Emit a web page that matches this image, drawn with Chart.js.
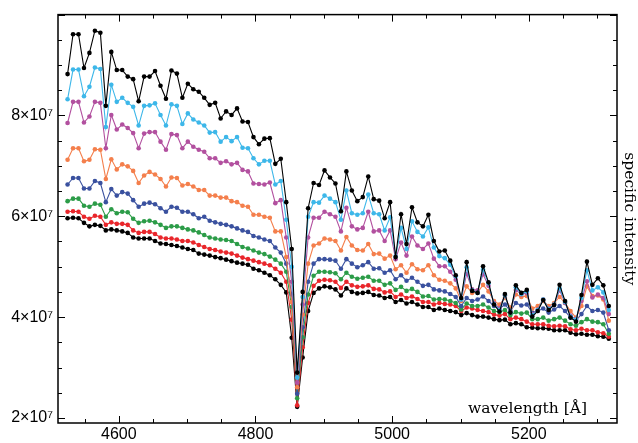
<!DOCTYPE html>
<html>
<head>
<meta charset="utf-8">
<script src="https://cdn.jsdelivr.net/npm/chart.js@4.4.1/dist/chart.umd.min.js"></script>
<style>
  html, body { margin: 0; padding: 0; background: #fff; }
</style>
</head>
<body>
<canvas id="specChart" width="638" height="443"></canvas>
<script>
// wavelength grid, Angstrom
var wavelengths = [4525, 4533, 4541, 4549, 4557, 4565, 4573, 4581, 4589, 4597,
  4605, 4613, 4621, 4629, 4637, 4645, 4653, 4661, 4669, 4677,
  4685, 4693, 4701, 4709, 4717, 4725, 4733, 4741, 4749, 4757,
  4765, 4773, 4781, 4789, 4797, 4805, 4813, 4821, 4829, 4837,
  4845, 4853, 4861, 4869, 4877, 4885, 4893, 4901, 4909, 4917,
  4925, 4933, 4941, 4949, 4957, 4965, 4973, 4981, 4989, 4997,
  5005, 5013, 5021, 5029, 5037, 5045, 5053, 5061, 5069, 5077,
  5085, 5093, 5101, 5109, 5117, 5125, 5133, 5141, 5149, 5157,
  5165, 5173, 5181, 5189, 5197, 5205, 5213, 5221, 5229, 5237,
  5245, 5253, 5261, 5269, 5277, 5285, 5293, 5301, 5309, 5317];

// specific intensity, units of 1e7
var curve0 = [8.82, 9.61, 9.61, 8.94, 9.24, 9.68, 9.64, 8.19, 9.26, 8.90,
  8.90, 8.77, 8.72, 8.28, 8.77, 8.77, 8.88, 8.59, 8.33, 8.89,
  8.83, 8.35, 8.63, 8.52, 8.47, 8.35, 8.21, 8.25, 7.94, 8.08,
  8.01, 8.14, 7.88, 7.87, 7.57, 7.43, 7.54, 7.55, 7.04, 7.14,
  6.28, 5.35, 2.90, 4.50, 6.16, 6.66, 6.62, 6.91, 6.77, 6.65,
  6.10, 6.89, 6.51, 6.30, 6.38, 6.79, 6.34, 6.31, 5.96, 6.28,
  5.19, 6.04, 5.45, 6.18, 5.88, 5.80, 6.03, 5.51, 5.30, 5.32,
  5.12, 4.83, 4.38, 5.09, 4.52, 4.48, 5.01, 4.69, 4.25, 4.11,
  4.46, 4.09, 4.63, 4.48, 4.54, 4.01, 4.12, 4.34, 4.14, 4.24,
  4.64, 4.32, 3.99, 3.91, 4.44, 5.10, 4.64, 4.77, 4.63, 4.22];
var curve1 = [8.32, 8.91, 8.91, 8.38, 8.57, 8.95, 8.92, 7.77, 8.61, 8.27,
  8.35, 8.25, 8.17, 7.80, 8.19, 8.20, 8.24, 8.01, 7.80, 8.22,
  8.19, 7.83, 8.04, 7.92, 7.86, 7.80, 7.66, 7.67, 7.48, 7.57,
  7.49, 7.57, 7.36, 7.35, 7.15, 7.03, 7.10, 7.10, 6.63, 6.70,
  5.93, 5.00, 2.80, 4.40, 5.99, 6.28, 6.27, 6.41, 6.35, 6.28,
  5.93, 6.51, 6.06, 6.03, 6.06, 6.43, 6.06, 6.04, 5.72, 5.98,
  5.20, 5.77, 5.35, 5.90, 5.69, 5.60, 5.78, 5.38, 5.21, 5.17,
  5.04, 4.81, 4.35, 4.99, 4.53, 4.48, 4.94, 4.67, 4.26, 4.14,
  4.44, 4.09, 4.59, 4.46, 4.51, 4.04, 4.14, 4.35, 4.16, 4.25,
  4.57, 4.30, 4.01, 3.95, 4.38, 4.93, 4.53, 4.59, 4.49, 4.14];
var curve2 = [7.85, 8.27, 8.27, 7.86, 7.98, 8.27, 8.25, 7.35, 8.01, 7.72,
  7.82, 7.75, 7.65, 7.35, 7.64, 7.67, 7.67, 7.48, 7.32, 7.63,
  7.61, 7.35, 7.48, 7.38, 7.32, 7.28, 7.15, 7.15, 7.06, 7.09,
  7.03, 7.06, 6.92, 6.89, 6.65, 6.64, 6.63, 6.67, 6.26, 6.32,
  5.58, 4.70, 2.70, 4.25, 5.58, 5.97, 5.97, 6.09, 6.04, 5.99,
  5.70, 6.17, 5.80, 5.74, 5.77, 6.09, 5.70, 5.72, 5.51, 5.72,
  5.15, 5.48, 5.22, 5.60, 5.42, 5.35, 5.46, 5.16, 5.01, 5.01,
  4.90, 4.74, 4.35, 4.86, 4.55, 4.53, 4.85, 4.62, 4.28, 4.17,
  4.43, 4.10, 4.54, 4.45, 4.48, 4.06, 4.15, 4.35, 4.17, 4.25,
  4.53, 4.28, 4.03, 3.96, 4.32, 4.71, 4.39, 4.45, 4.38, 4.06];
var curve3 = [7.12, 7.35, 7.35, 7.09, 7.12, 7.33, 7.32, 6.74, 7.13, 6.93,
  7.03, 6.99, 6.90, 6.66, 6.81, 6.88, 6.83, 6.74, 6.59, 6.77,
  6.76, 6.61, 6.64, 6.59, 6.52, 6.52, 6.41, 6.41, 6.37, 6.37,
  6.30, 6.28, 6.21, 6.19, 6.03, 6.03, 5.99, 5.97, 5.70, 5.70,
  5.19, 4.30, 2.61, 4.05, 5.06, 5.42, 5.46, 5.56, 5.54, 5.51,
  5.32, 5.59, 5.42, 5.33, 5.32, 5.45, 5.25, 5.26, 5.16, 5.22,
  4.95, 5.03, 4.88, 5.05, 4.95, 4.93, 5.03, 4.83, 4.74, 4.72,
  4.67, 4.57, 4.32, 4.61, 4.48, 4.49, 4.64, 4.51, 4.32, 4.25,
  4.38, 4.19, 4.45, 4.40, 4.42, 4.17, 4.22, 4.32, 4.22, 4.28,
  4.40, 4.28, 4.12, 3.99, 4.22, 4.61, 4.42, 4.43, 4.35, 3.93];
var curve4 = [6.63, 6.76, 6.76, 6.55, 6.55, 6.70, 6.66, 6.28, 6.54, 6.41,
  6.48, 6.45, 6.32, 6.19, 6.25, 6.27, 6.24, 6.16, 6.09, 6.19,
  6.17, 6.09, 6.09, 6.04, 5.96, 5.99, 5.91, 5.88, 5.85, 5.83,
  5.80, 5.76, 5.72, 5.69, 5.61, 5.58, 5.54, 5.51, 5.38, 5.28,
  5.06, 4.45, 2.48, 3.80, 4.70, 5.06, 5.15, 5.15, 5.14, 5.12,
  4.96, 5.15, 5.06, 4.99, 5.03, 5.09, 4.96, 4.97, 4.88, 4.93,
  4.75, 4.83, 4.72, 4.78, 4.70, 4.62, 4.64, 4.55, 4.53, 4.51,
  4.46, 4.40, 4.22, 4.38, 4.32, 4.35, 4.41, 4.32, 4.22, 4.17,
  4.25, 4.12, 4.28, 4.23, 4.25, 4.09, 4.12, 4.17, 4.09, 4.15,
  4.22, 4.12, 3.99, 3.93, 4.06, 4.22, 4.12, 4.14, 4.09, 3.74];
var curve5 = [6.30, 6.35, 6.35, 6.21, 6.19, 6.25, 6.23, 5.99, 6.14, 6.06,
  6.09, 6.08, 5.95, 5.87, 5.90, 5.91, 5.88, 5.83, 5.77, 5.80,
  5.80, 5.77, 5.74, 5.72, 5.68, 5.63, 5.58, 5.56, 5.54, 5.53,
  5.51, 5.45, 5.39, 5.36, 5.32, 5.28, 5.25, 5.20, 5.14, 5.06,
  4.90, 4.20, 2.39, 3.60, 4.45, 4.82, 4.90, 4.90, 4.89, 4.87,
  4.75, 4.88, 4.80, 4.76, 4.78, 4.80, 4.72, 4.72, 4.64, 4.67,
  4.54, 4.60, 4.52, 4.56, 4.50, 4.41, 4.42, 4.35, 4.36, 4.35,
  4.32, 4.28, 4.15, 4.27, 4.22, 4.22, 4.25, 4.19, 4.12, 4.10,
  4.14, 4.04, 4.10, 4.07, 4.09, 3.96, 3.96, 3.99, 3.93, 3.96,
  3.99, 3.93, 3.86, 3.83, 3.90, 3.96, 3.91, 3.90, 3.86, 3.67];
var curve6 = [6.09, 6.10, 6.09, 5.99, 5.95, 6.01, 5.99, 5.83, 5.88, 5.85,
  5.85, 5.83, 5.72, 5.67, 5.69, 5.69, 5.65, 5.58, 5.56, 5.56,
  5.54, 5.51, 5.51, 5.48, 5.43, 5.39, 5.35, 5.33, 5.30, 5.28,
  5.26, 5.22, 5.18, 5.15, 5.12, 5.09, 5.06, 5.03, 4.96, 4.88,
  4.70, 3.95, 2.25, 3.40, 4.28, 4.62, 4.72, 4.74, 4.73, 4.70,
  4.58, 4.70, 4.63, 4.60, 4.61, 4.63, 4.56, 4.55, 4.49, 4.51,
  4.40, 4.45, 4.38, 4.41, 4.36, 4.30, 4.30, 4.25, 4.28, 4.26,
  4.25, 4.22, 4.12, 4.19, 4.17, 4.14, 4.12, 4.10, 4.05, 4.03,
  4.06, 3.96, 3.99, 3.96, 3.91, 3.86, 3.86, 3.86, 3.83, 3.82,
  3.83, 3.82, 3.76, 3.74, 3.77, 3.74, 3.74, 3.70, 3.68, 3.61];
var curve7 = [5.96, 5.97, 5.96, 5.87, 5.80, 5.83, 5.81, 5.72, 5.74, 5.72,
  5.70, 5.67, 5.58, 5.56, 5.56, 5.56, 5.51, 5.46, 5.45, 5.43,
  5.41, 5.38, 5.35, 5.33, 5.26, 5.24, 5.22, 5.19, 5.17, 5.14,
  5.11, 5.08, 5.06, 5.04, 4.96, 4.93, 4.88, 4.83, 4.75, 4.64,
  4.49, 3.59, 2.22, 3.20, 4.12, 4.48, 4.57, 4.61, 4.59, 4.55,
  4.43, 4.57, 4.50, 4.47, 4.48, 4.50, 4.44, 4.43, 4.38, 4.40,
  4.30, 4.34, 4.27, 4.30, 4.25, 4.20, 4.20, 4.14, 4.17, 4.14,
  4.12, 4.10, 4.04, 4.08, 4.04, 4.01, 4.01, 3.99, 3.96, 3.94,
  3.95, 3.86, 3.88, 3.86, 3.80, 3.79, 3.78, 3.78, 3.77, 3.74,
  3.74, 3.74, 3.69, 3.66, 3.67, 3.65, 3.65, 3.62, 3.61, 3.57];

var curves = [curve0, curve1, curve2, curve3, curve4, curve5, curve6, curve7];
var curveColors = ["#000000", "#3db7e9", "#b2509f", "#f47f4c", "#3a519f", "#2c9c48", "#e9262b", "#000000"];

// labelled ticks (y in units of 1e7)
var yTickValues = [2, 4, 6, 8];
var yTickLabels = ["2×10⁷", "4×10⁷", "6×10⁷", "8×10⁷"];
var xTickValues = [4600, 4800, 5000, 5200];

var datasets = curves.map(function (vals, k) {
  return {
    data: wavelengths.map(function (w, i) { return { x: w, y: vals[i] }; }),
    borderColor: curveColors[k],
    backgroundColor: curveColors[k],
    borderWidth: 1.1,
    pointRadius: 2.3,
    pointBorderWidth: 0,
    pointBackgroundColor: curveColors[k],
    tension: 0
  };
});

function isStep(v, step) {
  var q = v / step;
  return Math.abs(q - Math.round(q)) < 1e-6;
}

// minor tick every 50 A on x, every 0.5e7 on y
function setTicks(step) {
  return function (scale) {
    var out = [];
    var v = Math.ceil(scale.min / step - 1e-9) * step;
    for (; v <= scale.max + 1e-9; v += step) out.push({ value: Math.round(v * 1000) / 1000 });
    scale.ticks = out;
  };
}

// box frame, inward ticks on all four sides, in-plot x label
var framePlugin = {
  id: 'frame',
  afterDraw: function (chart) {
    var ctx = chart.ctx, a = chart.chartArea;
    var xs = chart.scales.x, ys = chart.scales.y;
    ctx.save();
    ctx.strokeStyle = '#000';
    ctx.lineWidth = 1;
    ctx.beginPath();
    xs.ticks.forEach(function (t) {
      var px = Math.round(xs.getPixelForValue(t.value)) + 0.5;
      var len = xTickValues.indexOf(t.value) >= 0 ? 7 : 4;
      ctx.moveTo(px, a.bottom); ctx.lineTo(px, a.bottom - len);
      ctx.moveTo(px, a.top); ctx.lineTo(px, a.top + len);
    });
    ys.ticks.forEach(function (t) {
      var py = Math.round(ys.getPixelForValue(t.value)) + 0.5;
      var len = isStep(t.value, 2) ? 7 : 4;
      ctx.moveTo(a.left, py); ctx.lineTo(a.left + len, py);
      ctx.moveTo(a.right, py); ctx.lineTo(a.right - len, py);
    });
    ctx.stroke();
    ctx.lineWidth = 1.5;
    ctx.strokeRect(a.left, a.top, a.right - a.left, a.bottom - a.top);
    ctx.fillStyle = '#000';
    ctx.font = '15.5px "DejaVu Serif"';
    ctx.textAlign = 'right';
    ctx.textBaseline = 'alphabetic';
    ctx.fillText('wavelength [Å]', a.right - 30, a.bottom - 10);
    ctx.restore();
  }
};

new Chart(document.getElementById('specChart'), {
  type: 'line',
  data: { datasets: datasets },
  options: {
    responsive: false,
    animation: false,
    devicePixelRatio: 1,
    layout: { padding: { top: 5, left: 0, right: 0, bottom: 0 } },
    plugins: {
      legend: { display: false },
      tooltip: { enabled: false }
    },
    scales: {
      x: {
        type: 'linear',
        min: 4511,
        max: 5329,
        grid: { display: false, drawTicks: false },
        border: { display: false },
        afterBuildTicks: setTicks(50),
        ticks: {
          autoSkip: false,
          maxRotation: 0,
          padding: 2,
          color: '#000',
          font: { family: '"Liberation Sans", Arial, sans-serif', size: 16 },
          callback: function (v) { return xTickValues.indexOf(v) >= 0 ? String(v) : ''; }
        },
        afterFit: function (s) { s.height = 20; }
      },
      y: {
        type: 'linear',
        position: 'left',
        min: 1.9,
        max: 10,
        grid: { display: false, drawTicks: false },
        border: { display: false },
        afterBuildTicks: setTicks(0.5),
        ticks: {
          autoSkip: false,
          padding: 5,
          color: '#000',
          font: { family: '"Liberation Sans", Arial, sans-serif', size: 16 },
          callback: function (v) {
            for (var i = 0; i < yTickValues.length; i++) {
              if (Math.abs(v - yTickValues[i]) < 1e-6) return yTickLabels[i];
            }
            return '';
          }
        },
        afterFit: function (s) { s.width = 58; }
      },
      yRight: {
        type: 'linear',
        position: 'right',
        min: 1.9,
        max: 10,
        grid: { display: false, drawTicks: false },
        border: { display: false },
        ticks: { display: false },
        title: {
          display: true,
          text: 'specific intensity',
          color: '#000',
          padding: 0,
          font: { family: '"DejaVu Serif", serif', size: 15.5 }
        },
        afterFit: function (s) { s.width = 21; }
      }
    }
  },
  plugins: [framePlugin]
});
</script>
</body>
</html>
